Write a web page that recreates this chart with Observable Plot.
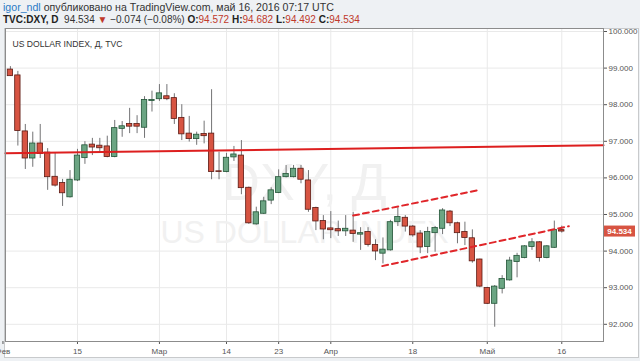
<!DOCTYPE html>
<html><head><meta charset="utf-8">
<script src="https://cdn.jsdelivr.net/npm/d3@7"></script>
<script src="https://cdn.jsdelivr.net/npm/@observablehq/plot@0.6"></script>
<style>
html,body{margin:0;padding:0}
body{width:640px;height:361px;overflow:hidden;background:#eef1f4;font-family:"Liberation Sans",Arial,sans-serif;position:relative}
#hdr{position:absolute;left:3px;top:1px;font-size:10px;line-height:12.5px;color:#333;white-space:nowrap}
#hdr .l1{font-size:10.6px}
#hdr .u{color:#2a7bc6}
#hdr .r{color:#c0392b}
#hdr b{font-weight:bold;color:#222}
#panel{position:absolute;left:4px;top:28px;width:633px;height:328px;background:#fff;border:1px solid #c8cacc}
#chart{position:absolute;left:0;top:28px}
</style></head>
<body>
<div id="hdr">
  <div class="l1"><span class="u">igor_ndl</span> опубликовано на TradingView.com, май 16, 2016 07:17 UTC</div>
  <div id="l2"></div>
</div>
<div id="panel"></div>
<div id="chart"></div>
<script>
// ---- data: daily candles, 2016-02-02 .. 2016-05-16 (trading days) ----
const opens  = [98.96,98.80,97.27,96.53,96.94,96.69,96.03,95.86,95.47,95.93,96.54,96.91,96.88,96.86,96.57,97.34,97.47,97.47,97.37,98.10,
                98.15,98.23,98.18,97.64,97.21,97.06,97.20,97.21,96.18,96.16,96.56,96.61,95.73,94.73,95.02,95.38,95.59,96.02,96.02,96.25,
                95.93,95.18,94.82,94.62,94.60,94.54,94.56,94.45,94.52,94.17,93.93,94.02,94.79,94.91,94.67,94.48,94.11,94.49,94.61,95.08,
                94.76,94.52,94.35,93.77,92.99,92.56,92.97,93.20,93.70,93.81,94.11,94.24,93.81,94.09,94.572];
const highs  = [99.04,98.91,97.46,97.25,97.46,96.80,96.67,95.96,96.20,96.78,96.99,97.08,97.08,97.14,97.57,97.54,97.90,97.70,98.22,98.37,
                98.55,98.55,98.30,98.00,97.68,97.25,97.55,98.41,96.70,96.67,96.86,97.02,95.75,95.20,95.47,95.73,96.22,96.34,96.34,96.34,
                96.20,95.20,94.97,95.08,94.82,94.97,95.06,94.64,94.64,94.31,94.36,94.84,95.18,94.97,94.70,94.56,94.65,94.67,95.16,95.11,
                94.79,94.79,94.58,93.78,93.01,93.06,93.33,93.83,93.94,94.15,94.34,94.26,94.15,94.82,94.682];
const lows   = [98.77,96.87,96.23,96.29,96.53,95.66,95.75,95.22,95.45,95.90,96.37,96.61,96.67,96.55,96.55,97.11,97.21,97.21,97.08,97.80,
                98.09,98.11,97.46,97.02,96.98,96.89,96.93,95.95,95.95,96.14,96.45,95.54,94.73,94.71,95.00,95.27,95.57,96.00,96.00,95.84,
                95.06,94.56,94.31,94.34,94.40,94.40,94.24,94.02,94.11,93.74,93.65,94.00,94.67,94.52,94.38,93.93,93.93,93.97,94.45,94.67,
                94.20,94.15,93.67,93.00,92.54,91.92,92.83,93.18,93.27,93.79,94.02,93.70,93.79,94.07,94.492];
const closes = [98.78,97.28,96.53,96.94,96.65,96.02,95.79,95.58,95.95,96.61,96.89,96.83,96.81,96.57,97.36,97.41,97.40,97.40,98.13,98.13,
                98.31,98.15,97.61,97.19,97.06,97.18,97.14,96.16,96.16,96.55,96.64,95.72,94.76,95.06,95.36,95.66,96.02,96.11,96.25,95.95,
                95.13,94.81,94.59,94.57,94.54,94.61,94.47,94.49,94.17,93.99,94.04,94.79,94.93,94.67,94.43,94.10,94.52,94.63,95.11,94.76,
                94.49,94.36,93.72,93.03,92.56,93.03,93.24,93.74,93.87,94.13,94.24,93.81,94.13,94.58,94.534];

// x-axis ticks (trading-day dates) and their labels
const tickDates  = ["2016-02-01","2016-02-15","2016-03-01","2016-03-14","2016-03-23","2016-04-01","2016-04-18","2016-05-02","2016-05-16"];
const tickLabels = ["Фев","15","Мар","14","23","Апр","18","Май","16"];
// y-axis ticks
const yTicks = [92,93,94,95,96,97,98,99,100];

// drawn trend lines: [trading-day index, price]
const hLineIdx   = [0.34, 80.6];  const hLinePrice   = [96.675, 96.89];
const upLineIdx  = [47.0, 63.9];  const upLinePrice  = [94.97, 95.67];
const lowLineIdx = [50.9, 75.95]; const lowLinePrice = [93.59, 94.68];

const header = {sym: "TVC:DXY, D", last: 94.534, chg: "−0.074 (−0.08%)"};

// ---- build ----
const tradingDays = d3.utcDays(new Date("2016-02-01"), new Date("2016-05-31"))
  .filter(d => d.getUTCDay() % 6 !== 0).map(d => d3.utcFormat("%Y-%m-%d")(d));
const idxOf = s => tradingDays.indexOf(s);
const candles = opens.map((o, k) => ({x: idxOf("2016-02-02") + k, o, h: highs[k], l: lows[k], c: closes[k]}));
const ups = candles.filter(d => d.c >= d.o), downs = candles.filter(d => d.c < d.o);
const tickIdx = tickDates.map(idxOf);
const labelOf = new Map(tickIdx.map((t, i) => [t, tickLabels[i]]));
const pts = (xs, ps) => xs.map((x, i) => ({x, p: ps[i]}));
const hw = 0.36;
const bodyOpts = (fill, stroke) => ({x1: d => d.x - hw, x2: d => d.x + hw,
  y1: d => Math.min(d.o, d.c), y2: d => Math.max(d.o, d.c), fill, stroke, strokeWidth: 0.8});

const chart = Plot.plot({
  width: 640, height: 333,
  marginLeft: 5, marginRight: 37, marginTop: 0, marginBottom: 20,
  style: {background: "transparent", fontFamily: "Liberation Sans, Arial, sans-serif", fontSize: "8px", color: "#555"},
  x: {domain: [hLineIdx[0], hLineIdx[1]], ticks: tickIdx, tickFormat: i => labelOf.get(i), tickSize: 3, tickPadding: 4, label: null},
  y: {domain: [91.53, 100.082], axis: "right", ticks: yTicks, tickFormat: d => d.toFixed(3), tickSize: 3, tickPadding: 2, label: null},
  marks: [
    Plot.ruleY(yTicks, {stroke: "#e9e9e9"}),
    Plot.ruleX(tickIdx.slice(1), {stroke: "#e9e9e9"}),
    Plot.text(["DXY, Д"], {frameAnchor: "middle", dy: -2, fontSize: 52, fill: "#f1f1f1"}),
    Plot.text(["US DOLLAR INDEX"], {frameAnchor: "middle", dy: 48, fontSize: 32, fill: "#f1f1f1"}),
    Plot.ruleX(candles, {x: "x", y1: "l", y2: "h", stroke: "#737375"}),
    Plot.rect(ups, bodyOpts("#6ba583", "#225437")),
    Plot.rect(downs, bodyOpts("#d75442", "#5b1a13")),
    Plot.line(pts(hLineIdx, hLinePrice), {x: "x", y: "p", stroke: "#dd1f1f", strokeWidth: 2}),
    Plot.line(pts(upLineIdx, upLinePrice), {x: "x", y: "p", stroke: "#e0262a", strokeWidth: 2, strokeDasharray: "6,4"}),
    Plot.line(pts(lowLineIdx, lowLinePrice), {x: "x", y: "p", stroke: "#e0262a", strokeWidth: 2, strokeDasharray: "6,4"}),
    Plot.frame({stroke: "#8c8c8c"}),
    Plot.text(["US DOLLAR INDEX, Д, TVC"], {frameAnchor: "top-left", dx: 7, dy: 12, fontSize: 8.6, fill: "#333"})
  ]
});
document.getElementById("chart").appendChild(chart);

// last-price label on the price axis
const ys = chart.scale("y"), xs = chart.scale("x");
const yy = ys.apply(closes[closes.length - 1]);
const x0 = xs.range[1];
const svg = d3.select(chart);
svg.append("rect").attr("x", x0 + 1).attr("y", yy - 5.5).attr("width", 31).attr("height", 11).attr("fill", "#d75442");
svg.append("text").attr("x", x0 + 16.5).attr("y", yy).attr("dy", "0.35em").attr("text-anchor", "middle")
  .attr("fill", "#fff").attr("font-size", 8).attr("font-weight", "bold").text(closes[closes.length - 1].toFixed(3));

// header line 2
const last = candles[candles.length - 1];
document.getElementById("l2").innerHTML =
  `<b>${header.sym}</b>&nbsp; ${header.last.toFixed(3)} <span class="r">▼</span> ${header.chg} ` +
  `<b>O:</b><span class="r">${last.o.toFixed(3)}</span> <b>H:</b><span class="r">${last.h.toFixed(3)}</span> ` +
  `<b>L:</b><span class="r">${last.l.toFixed(3)}</span> <b>C:</b><span class="r">${last.c.toFixed(3)}</span>`;
</script>
</body></html>
